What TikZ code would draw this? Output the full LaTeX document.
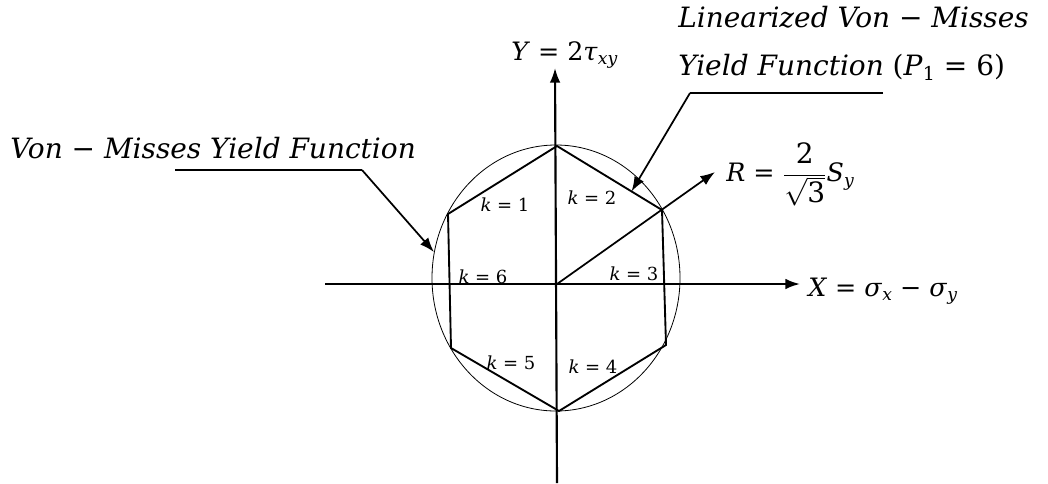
\documentclass[tikz,border=0pt]{standalone}
\usepackage{fontspec}
\newfontfamily\djs{DejaVu Serif}
\newcommand{\mi}[1]{\textit{#1}}
\newcommand{\sbs}[1]{\raisebox{-0.35ex}{\fontsize{\the\dimexpr0.68\fontdimen6\font\relax}{1em}\selectfont #1}}
\usetikzlibrary{arrows.meta,calc,shapes.geometric}
\begin{document}
\begin{tikzpicture}[x=0.75pt,y=-0.75pt,
  axis/.style={line width=1.6pt,-{Latex[length=11pt,width=8pt]}},
  hexline/.style={line width=1.4pt},
  leader/.style={line width=1.1pt},
  leadarrow/.style={line width=1.3pt,-{Latex[length=11pt,width=8pt]}},
  biglabel/.style={inner sep=0pt,font=\djs\fontsize{21}{24}\selectfont},
  midlabel/.style={inner sep=0pt,font=\djs\fontsize{19}{22}\selectfont},
  klabel/.style={inner sep=0pt,font=\djs\fontsize{13.5}{15}\selectfont}]
\useasboundingbox (0,0) rectangle (1048,483);
% ellipse (von Mises)
\node[draw,ellipse,line width=0.6pt,inner sep=0pt,minimum width=186pt,minimum height=199.5pt] (vm) at (556,278) {};
% hexagon vertices
\coordinate (h1) at (557,146);
\coordinate (h2) at (662,210);
\coordinate (h3) at (666,345);
\coordinate (h4) at (559,411);
\coordinate (h5) at (451,348);
\coordinate (h6) at (448,214);
\draw[hexline] (h1) -- (h2) -- (h3) -- (h4) -- (h5) -- (h6) -- cycle;
% axes
\coordinate (O) at (557,284);
\coordinate (xs) at (325,284);
\coordinate (xe) at (800,284);
\coordinate (ys) at (557,483);
\coordinate (ye) at (555,68);
\draw[axis] (xs) -- (xe);
\draw[axis] (ys) -- (ye);
% R arrow
\coordinate (Rtip) at (715,172);
\draw[leadarrow] (O) -- (Rtip);
% labels
\node[midlabel,anchor=base west] (Ylab) at (511,60) {\mi{Y} = 2\mi{τ}\sbs{\mi{xy}}};
\node[midlabel,anchor=base west] (Xlab) at (808,296) {\mi{X} = \mi{σ}\sbs{\mi{x}} − \mi{σ}\sbs{\mi{y}}};
\node[midlabel,anchor=west] (Rlab) at (726,174) {\mi{R} = {\fontsize{21}{24}\selectfont$\displaystyle\frac{\hbox{2}}{\sqrt{\hbox{3}}}$}\mi{S}\sbs{\mi{y}}};
\node[biglabel,anchor=base west] (vmlab) at (10,158) {\mi{Von − Misses Yield Function}};
\node[biglabel,anchor=base west] (lin1) at (678,27) {\mi{Linearized Von − Misses}};
\node[biglabel,anchor=base west] (lin2) at (678,75) {\mi{Yield Function} (\mi{P}\sbs{1} = 6)};
% k labels
\node[klabel] (k1) at (505,205) {\mi{k} = 1};
\node[klabel] (k2) at (592,198) {\mi{k} = 2};
\node[klabel] (k3) at (634,274) {\mi{k} = 3};
\node[klabel] (k4) at (593,367) {\mi{k} = 4};
\node[klabel] (k5) at (511,363) {\mi{k} = 5};
\node[klabel] (k6) at (483,277) {\mi{k} = 6};
% leaders
\coordinate (va) at (175,170);
\coordinate (vb) at (362,170);
\draw[leader] (va) -- (vb);
\draw[leadarrow] (vb) -- (vm.168);
\coordinate (la) at (883,93);
\coordinate (lb) at (690,93);
\coordinate (ltip) at ($(h1)!0.71!(h2)$);
\draw[leader] (la) -- (lb);
\draw[leadarrow] (lb) -- (ltip);
\end{tikzpicture}
\end{document}
